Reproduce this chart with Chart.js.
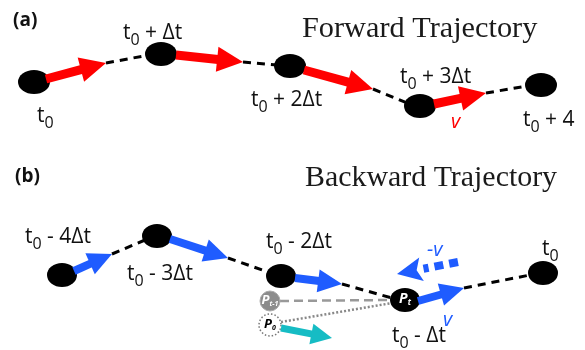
<!DOCTYPE html>
<html>
<head>
<meta charset="utf-8">
<script src="https://cdn.jsdelivr.net/npm/chart.js@4.4.0/dist/chart.umd.min.js"></script>
<style>
body { margin: 0; background: #fff; }
#wrap { width: 585px; height: 350px; position: relative; }
</style>
</head>
<body>
<div id="wrap"><canvas id="diagrama"></canvas></div>
<script>
// posições dos nós (coordenadas do desenho, y para baixo)
const nodesA = [[34, 82], [161, 54], [290, 66], [420, 106], [541, 85]];
const nodesB = [[62, 275], [157, 236], [281, 276], [405, 300], [543, 273]];
const nodePrev = [[270, 301]];   // P t-1
const nodeZero = [[270, 325]];   // P 0

// setas de velocidade [x1, y1, x2, y2]
const arrowsA = [[46, 79, 106, 63], [176, 55, 243, 62], [304, 70, 373, 89], [434, 104, 486, 93]];
const arrowsB = [[74, 271, 112, 254], [170, 239, 228, 258], [295, 278, 342, 284], [418, 301, 464, 288]];
const arrowCyan = [[281, 328, 332, 338]];
const arrowBack = [[458, 262, 397, 274]];

// ligações tracejadas entre setas e nós
const dashA = [[106, 63, 149, 55], [243, 62, 277, 65], [373, 89, 407, 103], [486, 93, 527, 86]];
const dashB = [[112, 254, 145, 240], [228, 258, 268, 272], [342, 284, 392, 298], [464, 288, 530, 275]];
const greyDash = [[280, 301, 391, 300]];
const greyDot = [[281, 322, 392, 303]];

// textos: [x, y(base), prefixo, índice, resto]
const timeLabels = [
    [37, 122, 't', '0', ''],
    [123, 39, 't', '0', ' + Δt'],
    [251, 106, 't', '0', ' + 2Δt'],
    [400, 83, 't', '0', ' + 3Δt'],
    [523, 126, 't', '0', ' + 4'],
    [25, 243, 't', '0', ' - 4Δt'],
    [127, 280, 't', '0', ' - 3Δt'],
    [266, 248, 't', '0', ' - 2Δt'],
    [392, 342, 't', '0', ' - Δt'],
    [542, 255, 't', '0', '']
];

function elipse(rx, ry) {
    const c = document.createElement('canvas');
    c.width = rx * 2 + 2; c.height = ry * 2 + 2;
    const g = c.getContext('2d');
    g.fillStyle = '#000';
    g.beginPath();
    g.ellipse(rx + 1, ry + 1, rx, ry, 0, 0, Math.PI * 2);
    g.fill();
    return c;
}

function circuloPontilhado(r) {
    const c = document.createElement('canvas');
    c.width = r * 2 + 4; c.height = r * 2 + 4;
    const g = c.getContext('2d');
    g.fillStyle = '#fff';
    g.strokeStyle = '#777';
    g.lineWidth = 1.5;
    g.setLineDash([1.5, 2]);
    g.beginPath();
    g.arc(r + 2, r + 2, r, 0, Math.PI * 2);
    g.fill();
    g.stroke();
    return c;
}

const pts = arr => arr.map(p => ({ x: p[0], y: p[1] }));
const seg = s => [{ x: s[0], y: s[1] }, { x: s[2], y: s[3] }];

function lineSets(list, color, width, dash) {
    return list.map(s => ({
        type: 'line',
        data: seg(s),
        borderColor: color,
        borderWidth: width,
        borderDash: dash,
        pointRadius: 0,
        fill: false,
        order: 5
    }));
}

const datasets = [
    ...lineSets(dashA, '#000', 3, [8, 6]),
    ...lineSets(dashB, '#000', 3, [8, 6]),
    ...lineSets(greyDash, '#999', 2.5, [9, 5]),
    ...lineSets(greyDot, '#888', 2.5, [2, 2]),
    { data: pts(nodesA), pointStyle: elipse(16, 12), pointRadius: 12, order: 1 },
    { data: pts(nodesB), pointStyle: elipse(15, 12), pointRadius: 12, order: 1 },
    { data: pts(nodePrev), pointStyle: 'circle', pointRadius: 10, backgroundColor: '#8c8c8c', borderColor: '#aaa', borderWidth: 1, order: 1 },
    { data: pts(nodeZero), pointStyle: circuloPontilhado(11), pointRadius: 11, order: 1 }
];

// seta com haste cheia ou tracejada; notch recua a base da ponta
function seta(ctx, x1, y1, x2, y2, cor, shaft, headW, headL, dash, notch) {
    const ang = Math.atan2(y2 - y1, x2 - x1);
    const len = Math.hypot(x2 - x1, y2 - y1);
    const n = notch || 0;
    ctx.save();
    ctx.translate(x1, y1);
    ctx.rotate(ang);
    ctx.fillStyle = cor;
    ctx.strokeStyle = cor;
    if (dash) {
        ctx.lineWidth = shaft;
        ctx.setLineDash(dash);
        ctx.beginPath();
        ctx.moveTo(0, 0);
        ctx.lineTo(len - headL - 2, 0);
        ctx.stroke();
    } else {
        ctx.fillRect(0, -shaft / 2, len - headL + 1 + n, shaft);
    }
    ctx.beginPath();
    ctx.moveTo(len, 0);
    ctx.lineTo(len - headL, -headW / 2);
    ctx.lineTo(len - headL + n, 0);
    ctx.lineTo(len - headL, headW / 2);
    ctx.closePath();
    ctx.fill();
    ctx.restore();
}

const setas = {
    id: 'setas',
    afterDatasetsDraw(chart) {
        const ctx = chart.ctx;
        const sx = chart.scales.x, sy = chart.scales.y;
        const draw = (list, cor, shaft, hw, hl, dash, notch) => list.forEach(a => seta(ctx,
            sx.getPixelForValue(a[0]), sy.getPixelForValue(a[1]),
            sx.getPixelForValue(a[2]), sy.getPixelForValue(a[3]), cor, shaft, hw, hl, dash, notch));
        draw(arrowsA, '#ff0000', 9, 25, 26);
        draw(arrowsB, '#1f5cff', 8, 23, 24);
        draw(arrowCyan, '#16bcc4', 7, 21, 21);
        draw(arrowBack, '#1f5cff', 8, 24, 25, [9, 6], 5);
    }
};

const SANS = '"Open Sans", "Noto Sans", sans-serif';

function tLabel(ctx, x, y, pre, sub, post, size, cor) {
    ctx.fillStyle = cor;
    ctx.textBaseline = 'alphabetic';
    ctx.textAlign = 'left';
    ctx.font = size + 'px ' + SANS;
    ctx.fillText(pre, x, y);
    let w = ctx.measureText(pre).width;
    ctx.font = Math.round(size * 0.75) + 'px ' + SANS;
    ctx.fillText(sub, x + w, y + size * 0.28);
    w += ctx.measureText(sub).width;
    ctx.font = size + 'px ' + SANS;
    ctx.fillText(post, x + w, y);
}

function fitText(ctx, txt, x, y, width, family) {
    let size = 30;
    ctx.font = size + 'px ' + family;
    size = size * width / ctx.measureText(txt).width;
    ctx.font = size.toFixed(1) + 'px ' + family;
    ctx.fillText(txt, x, y);
}

function nodeText(ctx, x, y, sub, cor, size) {
    ctx.fillStyle = cor;
    ctx.textBaseline = 'middle';
    ctx.textAlign = 'left';
    ctx.font = 'italic bold ' + size + 'px ' + SANS;
    const w = ctx.measureText('P').width;
    const subW = (ctx.font = 'italic bold ' + Math.round(size * 0.55) + 'px ' + SANS, ctx.measureText(sub).width);
    const x0 = x - (w + subW) / 2;
    ctx.font = 'italic bold ' + size + 'px ' + SANS;
    ctx.fillText('P', x0, y);
    ctx.font = 'italic bold ' + Math.round(size * 0.55) + 'px ' + SANS;
    ctx.fillText(sub, x0 + w, y + size * 0.3);
}

const textos = {
    id: 'textos',
    afterDraw(chart) {
        const ctx = chart.ctx;
        const sx = chart.scales.x, sy = chart.scales.y;
        const X = v => sx.getPixelForValue(v), Y = v => sy.getPixelForValue(v);
        ctx.save();
        timeLabels.forEach(l => tLabel(ctx, X(l[0]), Y(l[1]), l[2], l[3], l[4], 21, '#111'));

        ctx.fillStyle = '#111';
        ctx.textBaseline = 'alphabetic';
        ctx.font = 'bold 19px ' + SANS;
        ctx.fillText('(a)', X(13), Y(26));
        ctx.fillText('(b)', X(15), Y(182));

        ctx.fillStyle = '#1a1a1a';
        fitText(ctx, 'Forward Trajectory', X(302), Y(37), 235, '"Liberation Serif", serif');
        fitText(ctx, 'Backward Trajectory', X(305), Y(186), 252, '"Liberation Serif", serif');

        ctx.font = 'italic 20px ' + SANS;
        ctx.fillStyle = '#ff0000';
        ctx.fillText('v', X(451), Y(128));
        ctx.fillStyle = '#1f5cff';
        ctx.fillText('-v', X(427), Y(256));
        ctx.fillText('v', X(443), Y(326));

        nodeText(ctx, X(405), Y(299), 't', '#fff', 14);
        nodeText(ctx, X(270), Y(300), 't-1', '#fff', 13);
        nodeText(ctx, X(270), Y(324), '0', '#000', 13);
        ctx.restore();
    }
};

new Chart(document.getElementById('diagrama').getContext('2d'), {
    type: 'scatter',
    data: { datasets: datasets },
    options: {
        responsive: true,
        maintainAspectRatio: false,
        animation: false,
        events: [],
        layout: { padding: 0, autoPadding: false },
        plugins: {
            legend: { display: false },
            tooltip: { enabled: false }
        },
        scales: {
            x: { type: 'linear', min: 0, max: 585, display: false },
            y: { type: 'linear', min: 0, max: 350, reverse: true, display: false }
        }
    },
    plugins: [setas, textos]
});
</script>
</body>
</html>
